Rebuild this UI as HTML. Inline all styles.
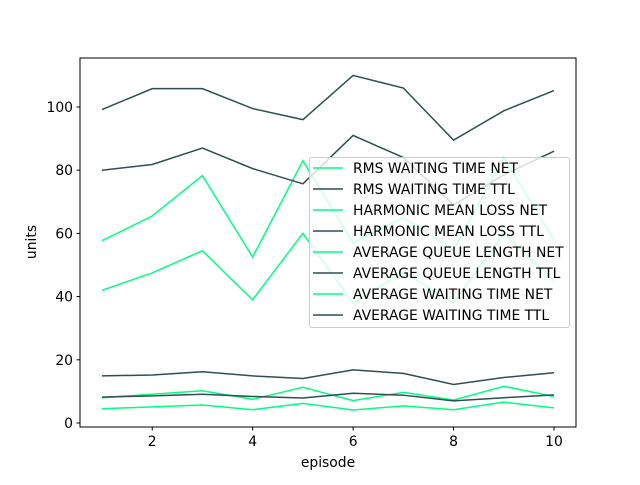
<!DOCTYPE html>
<html><head><meta charset="utf-8"><style>
body{margin:0;background:#fff;}
svg text{font-family:"DejaVu Sans","Liberation Sans",sans-serif;font-size:13.9px;fill:#000;}
</style></head><body>
<svg id="chart" width="640" height="480" xmlns="http://www.w3.org/2000/svg">
<rect width="640" height="480" fill="#fff"/>
<g id="series"></g>
<rect x="80" y="58" width="496" height="369" fill="none" stroke="#000" stroke-width="1"/>
<g id="ticks"></g>
<text x="328" y="467" text-anchor="middle">episode</text>
<text transform="translate(36,242) rotate(-90)" text-anchor="middle">units</text>
<g id="legend"></g>
</svg>
<script>
const episodes=[1,2,3,4,5,6,7,8,9,10];
const seriesNames=["RMS WAITING TIME NET","RMS WAITING TIME TTL","HARMONIC MEAN LOSS NET","HARMONIC MEAN LOSS TTL","AVERAGE QUEUE LENGTH NET","AVERAGE QUEUE LENGTH TTL","AVERAGE WAITING TIME NET","AVERAGE WAITING TIME TTL"];
const rmsNet=[57.7,65.5,78.3,52.5,83,57,65,54.7,84,58];
const rmsTtl=[99.2,105.8,105.8,99.5,96,110,106,89.5,98.8,105.2];
const hmNet=[42,47.5,54.5,39,60,38,47.7,38,60,45];
const hmTtl=[80,81.8,87,80.5,75.7,91,84,69,78.5,86];
const aqlNet=[8.0,9.1,10.2,7.5,11.3,7.1,9.7,7.3,11.6,8.4];
const aqlTtl=[14.9,15.2,16.2,14.9,14.1,16.8,15.7,12.2,14.4,15.9];
const awtNet=[4.5,5.1,5.7,4.2,6.2,4.1,5.4,4.2,6.6,4.8];
const awtTtl=[8.2,8.6,9.1,8.4,7.9,9.4,8.8,7.0,8.0,8.9];
const xTicks=[2,4,6,8,10];
const yTicks=[0,20,40,60,80,100];
const seriesData=[rmsNet,rmsTtl,hmNet,hmTtl,aqlNet,aqlTtl,awtNet,awtTtl];
const colors=["#00ff7f","#2f4f4f"];
const NS="http://www.w3.org/2000/svg";
function xs(v){return 102+(v-1)*(554-102)/9;}
function ys(v){return 423-v*3.16;}
function mk(t,a,p){const e=document.createElementNS(NS,t);for(const k in a)e.setAttribute(k,a[k]);p.appendChild(e);return e;}
const sg=document.getElementById('series');
seriesData.forEach((d,i)=>{
  const p=mk('polyline',{points:d.map((v,j)=>xs(episodes[j])+','+ys(v)).join(' '),fill:'none',stroke:colors[i%2],'stroke-width':1.5},sg);
  
  
});
const tg=document.getElementById('ticks');
xTicks.forEach(t=>{
  const l=mk('line',{x1:xs(t),x2:xs(t),y1:427,y2:430.5,stroke:'#000'},tg);
  
  
  const tx=mk('text',{x:xs(t),y:446,'text-anchor':'middle'},tg);tx.textContent=t;
  
  
});
yTicks.forEach(t=>{
  const l=mk('line',{x1:76.5,x2:80,y1:ys(t),y2:ys(t),stroke:'#000'},tg);
  
  
  const tx=mk('text',{x:73,y:ys(t)+5,'text-anchor':'end'},tg);tx.textContent=t;
  
  
});
const lg=document.getElementById('legend');
const box=mk('rect',{x:309.5,y:157.5,width:260,height:170,rx:2,fill:'#fff','fill-opacity':0.8,stroke:'#ccc'},lg);


seriesNames.forEach((n,i)=>{
  const y=168+i*21;
  const l=mk('line',{x1:313,x2:343,y1:y,y2:y,stroke:colors[i%2],'stroke-width':1.5},lg);
  
  
  const tx=mk('text',{x:353,y:y+5},lg);tx.textContent=n;
  
  
});
</script>
</body></html>
